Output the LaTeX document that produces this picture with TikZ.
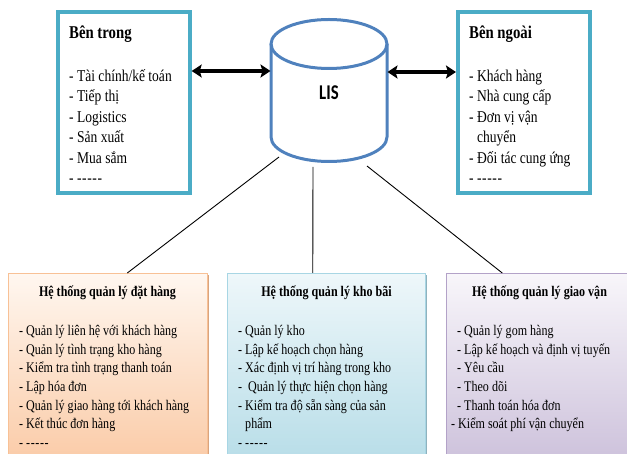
\documentclass[tikz,border=0pt]{standalone}
\usepackage{fontspec}
\setmainfont{Liberation Serif}[FakeStretch=0.82]
\newfontfamily\lisfont{Carlito}[FakeStretch=0.8]
\usetikzlibrary{arrows.meta,calc,shadows}

% a run of separate hyphens (kerns keep them from merging into dashes)
\newcommand\hyphenrun{-\kern0.6pt-\kern0.6pt-\kern0.6pt-\kern0.6pt-}

\definecolor{frameblue}{HTML}{4BACC6}
\definecolor{cylblue}{HTML}{4F81BD}
\definecolor{ordtop}{HTML}{FFF7F0}
\definecolor{ordbot}{HTML}{FAC9A4}
\definecolor{ordline}{HTML}{F8C196}
\definecolor{ordshade}{HTML}{D9A47E}
\definecolor{whtop}{HTML}{EEF7FA}
\definecolor{whbot}{HTML}{B5DCE7}
\definecolor{whline}{HTML}{A8D6E4}
\definecolor{whshade}{HTML}{8FB2BE}
\definecolor{trtop}{HTML}{F8F6FA}
\definecolor{trbot}{HTML}{CBBFDA}
\definecolor{trline}{HTML}{B3A2C8}
\definecolor{trshade}{HTML}{9C8CB0}

\tikzset{
  framebox/.style={draw=frameblue, line width=4pt, fill=white, inner sep=0pt,
    minimum width=131.7pt, minimum height=181pt},
  cylline/.style={draw=cylblue, line width=3pt},
  biarrow/.style={line width=3.5pt,
    {Stealth[length=10pt,width=13pt,inset=2pt]}-{Stealth[length=10pt,width=13pt,inset=2pt]}},
  link/.style={draw=black, line width=0.9pt},
  sysbox/.style n args={4}{draw=#3, line width=1pt, top color=#1, bottom color=#2,
    inner sep=0pt, drop shadow={shadow xshift=2pt, shadow yshift=-2pt, fill=#4, opacity=1}},
  headA/.style={anchor=base west, inner sep=0pt, font=\fontsize{18}{22}\selectfont\bfseries},
  itemA/.style={anchor=base west, inner sep=0pt, font=\fontsize{16.5}{20}\selectfont},
  headB/.style={anchor=base, inner sep=0pt, font=\fontsize{14.7}{18}\selectfont\bfseries},
  itemB/.style={anchor=base west, inner sep=0pt, font=\fontsize{14.7}{18}\selectfont},
}

\begin{document}
\begin{tikzpicture}[x=1pt, y=-1pt]
\useasboundingbox (0,0) rectangle (627,454);
\clip (0,0) rectangle (627,454);

% internal and external partners
\node[framebox] (inside) at (123.85,102.5) {};
\node[framebox] (outside) at (523.85,102.5) {};

\node[headA] (insidehead) at (69,39) {Bên trong};
\foreach \t [count=\i] in {- Tài chính/kế toán, - Tiếp thị, - Logistics, - Sản xuất, - Mua sắm, - \hyphenrun}
  \node[itemA] (insideitem\i) at (69,{81.5+(\i-1)*20.5}) {\t};

\node[headA] (outsidehead) at (469,39) {Bên ngoài};
\foreach \t [count=\i] in {- Khách hàng, - Nhà cung cấp, - Đơn vị vận, \phantom{- }chuyển, - Đối tác cung ứng, - \hyphenrun}
  \node[itemA] (outsideitem\i) at (469,{81.5+(\i-1)*20.5}) {\t};

% the LIS database
\draw[cylline] (271,44) -- (271,137) arc[start angle=180, end angle=0, x radius=58, y radius=24.5] -- (387,44);
\draw[cylline] (329,44) ellipse[x radius=58, y radius=24.5];
\node[font=\lisfont\bfseries\fontsize{21}{25}\selectfont, inner sep=0pt] (lis) at (329,92.5) {LIS};

\coordinate (lisW) at (270.5,71);
\coordinate (lisE) at (387.5,72);
\coordinate (lisSW) at (279,157);
\coordinate (lisS) at (313,167);
\coordinate (lisSE) at (367,166);

\draw[biarrow] (inside.east |- lisW) -- (lisW);
\draw[biarrow] (lisE) -- (outside.west |- lisE);

% the three subsystems
\node[sysbox={ordtop}{ordbot}{ordline}{ordshade}, minimum width=198.5pt, minimum height=196.5pt] (orders) at (107.75,371.75) {};
\node[sysbox={whtop}{whbot}{whline}{whshade}, minimum width=197.5pt, minimum height=196.5pt] (storage) at (326.25,371.75) {};
\node[sysbox={trtop}{trbot}{trline}{trshade}, minimum width=186.5pt, minimum height=196.5pt] (transport) at (539.75,371.75) {};

\draw[link] (lisSW) -- ($(orders.north west)!0.598!(orders.north east)$);
\draw[link] (lisS) -- ($(storage.north west)!0.432!(storage.north east)$);
\draw[link] (lisSE) -- ($(transport.north west)!0.3!(transport.north east)$);

\node[headB] (ordershead) at (107.5,296.7) {Hệ thống quản lý đặt hàng};
\foreach \t [count=\i] in {- Quản lý liên hệ với khách hàng, - Quản lý tình trạng kho hàng, - Kiểm tra tình trạng thanh toán, - Lập hóa đơn, - Quản lý giao hàng tới khách hàng, - Kết thúc đơn hàng, - \hyphenrun}
  \node[itemB] (ordersitem\i) at (19,{336+(\i-1)*18.5}) {\t};

\node[headB] (storagehead) at (326.5,296.7) {Hệ thống quản lý kho bãi};
\foreach \t [count=\i] in {- Quản lý kho, - Lập kế hoạch chọn hàng, - Xác định vị trí hàng trong kho, -\ \ Quản lý thực hiện chọn hàng, - Kiểm tra độ sẵn sàng của sản, \phantom{- }phẩm, - \hyphenrun}
  \node[itemB] (storageitem\i) at (238,{336+(\i-1)*18.5}) {\t};

\node[headB] (transporthead) at (539.5,296.7) {Hệ thống quản lý giao vận};
\foreach \t [count=\i] in {-\ Quản lý gom hàng, -\ Lập kế hoạch và định vị tuyến, -\ Yêu cầu, -\ Theo dõi, -\ Thanh toán hóa đơn}
  \node[itemB] (transportitem\i) at (457,{336+(\i-1)*18.5}) {\t};
\node[itemB] (transportitem6) at (451,428.5) {- Kiểm soát phí vận chuyển};
\end{tikzpicture}
\end{document}
